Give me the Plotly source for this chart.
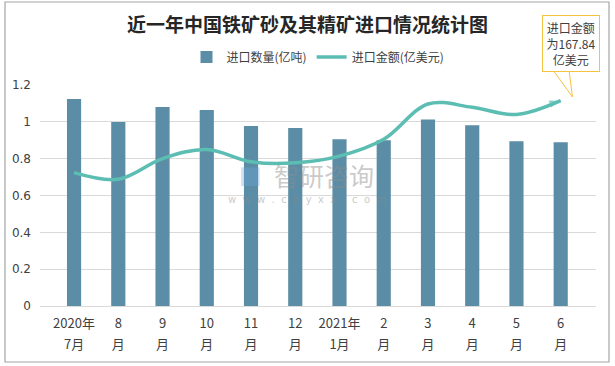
import plotly.graph_objects as go

categories = ["2020年7月", "8月", "9月", "10月", "11月", "12月",
              "2021年1月", "2月", "3月", "4月", "5月", "6月"]
tick_line1 = ["2020年", "8", "9", "10", "11", "12", "2021年", "2", "3", "4", "5", "6"]
tick_line2 = ["7月", "月", "月", "月", "月", "月", "1月", "月", "月", "月", "月", "月"]
quantity = [1.124, 0.999, 1.08, 1.064, 0.977, 0.966, 0.905, 0.900, 1.013, 0.981, 0.894, 0.889]
amount = [0.724, 0.688, 0.80, 0.85, 0.783, 0.778, 0.814, 0.905, 1.097, 1.079, 1.04, 1.115]
y_ticks = [0, 0.2, 0.4, 0.6, 0.8, 1.0, 1.2]
y_tick_labels = ["0", "0.2", "0.4", "0.6", "0.8", "1", "1.2"]

BAR = "#5B8DA6"
LINE = "#5CBDB3"
FONT = "Noto Sans CJK SC"

fig = go.Figure()
fig.add_trace(go.Bar(x=categories, y=quantity, name="进口数量(亿吨)",
                     marker=dict(color=BAR, line=dict(width=0)), width=0.32))
n = len(amount)
symbols = ["circle"] + ["circle"] * (n - 2) + ["arrow"]
sizes = [10] + [0] * (n - 2) + [12]
fig.add_trace(go.Scatter(x=categories, y=amount, name="进口金额(亿美元)",
                         mode="lines+markers",
                         line=dict(color=LINE, width=3.5, shape="spline", smoothing=1.0),
                         marker=dict(symbol=symbols, size=sizes, color=LINE,
                                     angleref="previous", line=dict(width=0))))
# invisible helper trace so the second (label) axis knows the categories
fig.add_trace(go.Scatter(x=categories, y=quantity, xaxis="x2", yaxis="y", mode="markers",
                         marker=dict(opacity=0, size=1), showlegend=False, hoverinfo="skip"))

# frame, callout wedge
W, H = 556, 221
def px(x): return (x - 40) / W
def py(y): return (306 - y) / H

shapes = [
    dict(type="rect", xref="paper", yref="paper", x0=px(5), x1=px(609), y0=py(362), y1=py(2),
         line=dict(color="#A6A6A6", width=1.2), fillcolor="rgba(0,0,0,0)", layer="below"),
    dict(type="path", xref="paper", yref="paper",
         path=f"M {px(553)},{py(70)} L {px(572.5)},{py(97)} L {px(569)},{py(70)}",
         line=dict(color="#F5C242", width=1)),
]

annotations = [
    dict(xref="paper", yref="paper", x=px(571), y=py(43.5), xanchor="center", yanchor="middle",
         text="进口金额<br>为167.84<br>亿美元", showarrow=False,
         font=dict(family=FONT, size=12, color="#404040"),
         bordercolor="#F5C242", borderwidth=1, borderpad=3, bgcolor="white",
         width=50, height=49),
    dict(xref="paper", yref="paper", x=px(323.5), y=py(175), xanchor="center", yanchor="middle",
         text="智研咨询", showarrow=False, opacity=0.45,
         font=dict(family=FONT, size=25, color="#8C8C8C")),
    dict(xref="paper", yref="paper", x=px(307), y=py(199), xanchor="center", yanchor="middle",
         text="w  w  w  .  c  h  y  x  x  .  c  o  m", showarrow=False, opacity=0.45,
         font=dict(family="DejaVu Sans", size=10, color="#8C8C8C")),
    dict(xref="paper", yref="paper", x=px(250), y=py(175), xanchor="center", yanchor="middle",
         text="■", showarrow=False, opacity=0.35,
         font=dict(family="DejaVu Sans", size=24, color="#6FA8DC")),
]

tickfont = dict(family=FONT, size=13, color="#404040")
fig.update_layout(
    width=615, height=366,
    margin=dict(l=40, r=19, t=85, b=60),
    paper_bgcolor="white", plot_bgcolor="white",
    font=dict(family=FONT, color="#404040"),
    title=dict(text="<b>近一年中国铁矿砂及其精矿进口情况统计图</b>", x=0.5, xanchor="center",
               y=1 - 25 / 366, yanchor="middle", yref="container",
               font=dict(family=FONT, size=19, color="#262626")),
    legend=dict(orientation="h", x=0.5, xanchor="center", y=py(57), yanchor="middle",
                font=dict(family=FONT, size=12, color="#404040"), bgcolor="rgba(0,0,0,0)",
                itemwidth=30, tracegroupgap=0),
    bargap=0.68,
    xaxis=dict(type="category", categoryorder="array", categoryarray=categories,
               tickvals=categories, ticktext=tick_line1,
               showgrid=False, showline=True, linecolor="#D9D9D9",
               ticks="", tickfont=tickfont, ticklabelstandoff=5),
    xaxis2=dict(type="category", categoryorder="array", categoryarray=categories,
                overlaying="x", matches="x", side="bottom", anchor="y",
                tickvals=categories, ticktext=tick_line2,
                showgrid=False, showline=False, ticks="", tickfont=tickfont,
                ticklabelstandoff=29),
    yaxis=dict(range=[0, 1.2], tickvals=y_ticks, ticktext=y_tick_labels, showgrid=True,
               gridcolor="#D9D9D9", gridwidth=1, zeroline=False, showline=False,
               ticklabelstandoff=8,
               tickfont=dict(family="DejaVu Sans", size=12, color="#404040")),
    shapes=shapes, annotations=annotations,
    showlegend=True,
)

fig.write_html("out.html", config={"displayModeBar": False},
               post_script="document.body.style.margin='0';document.body.style.overflow='hidden';")
